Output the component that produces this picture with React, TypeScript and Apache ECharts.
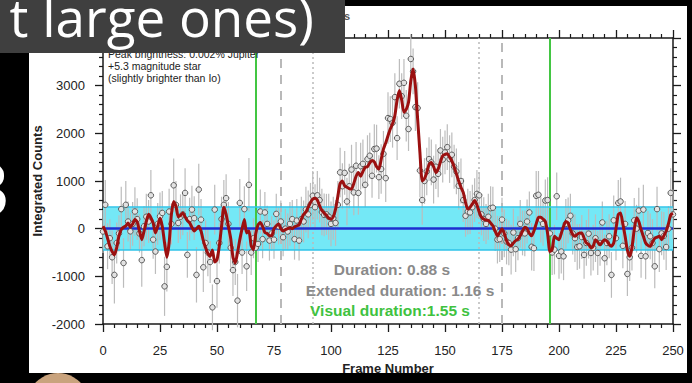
import React, { useEffect, useRef } from "react";
import * as echarts from "echarts";

// Smoothed light curve (running mean), one value per frame 0..250
const smooth = [
  50, -50, -200, -370, -480, -550, -400, -150, -20, 30,
  60, 120, 30, 100, 190, 140, -50, -230, -50, 150,
  300, 230, 120, -90, 50, 220, 50, -300, -600, -300,
  300, 570, 470, 250, 280, 330, 250, 170, 120, 30,
  -50, 0, 50, -50, -250, -400, -520, -580, -450, -700,
  -650, -370, 50, 450, 300, 50, -200, -600, -720, -500,
  -230, 0, 190, -90, -50, -360, -440, -100, 80, 130,
  50, -80, -100, -150, -150, 0, 60, 100, 0, -50,
  -20, 0, 20, 0, 40, 60, 80, 200, 300, 350,
  450, 550, 620, 640, 600, 480, 380, 330, 280, 220,
  200, 250, 410, 680, 950, 1000, 900, 870, 840, 830,
  950, 1100, 1180, 1100, 1200, 1290, 1300, 1380, 1430, 1400,
  1300, 1250, 1450, 1670, 1800, 1950, 2090, 2200, 2370, 2700,
  2900, 2700, 2440, 2500, 2650, 3100, 3350, 3000, 2300, 1600,
  1000, 1050, 1180, 1350, 1390, 1300, 1180, 1250, 1400, 1530,
  1560, 1570, 1500, 1420, 1300, 1150, 1000, 870, 760, 550,
  410, 450, 520, 590, 500, 350, 240, 200, 180, 170,
  120, 60, -50, -150, -80, 0, -100, -250, -330, -360,
  -300, -250, -220, -150, -50, 30, 0, -100, -150, -50,
  100, 240, 240, 200, 150, -100, -480, -440, -160, -200,
  -230, -100, 50, 150, 120, -20, -120, -160, -120, -90,
  -90, -200, -300, -330, -400, -370, -230, -280, -340, -280,
  -230, -260, -330, -370, -300, 0, 300, 330, 100, -160,
  -450, -580, -400, -20, 230, 150, -20, -160, -300, -350,
  -370, -280, -200, -180, -160, -230, -150, -56, 100, 290, 320,
];

// Integrated counts per frame 0..250
const counts = [
  -60, 500, -370, -200, -600, -970, -300, -100, 410, -720,
  500, 150, -56, 100, 360, 200, -100, -660, 50, 250,
  150, 700, -230, -480, 100, 260, 330, -1210, -800, 360,
  100, 910, 500, 120, 250, 300, 750, -550, 200, 400,
  220, -970, 820, 190, -810, -300, -500, -700, -1650, 400,
  -1100, -300, 200, 500, 640, 100, -400, -870, -700, -1510,
  540, -500, 410, -790, 920, -500, -200, -400, -320, 360,
  -220, 340, 100, -250, -100, -230, 310, 50, 150, -180,
  0, -60, 100, 200, -220, 170, -250, 200, 150, 400,
  300, 500, 690, 450, 700, 600, 350, 290, 300, 250,
  100, 220, 120, 500, 1180, 890, 1170, 570, 890, 1240,
  760, 1320, 750, 1310, 1360, 920, 1460, 1530, 1110, 1670,
  1680, 1080, 1250, 1570, 1060, 2320, 2300, 2220, 2760, 1900,
  3040, 2780, 3060, 2370, 2090, 3560, 3300, 2550, 2530, 1220,
  600, 1000, 1200, 1460, 1390, 1030, 1300, 1150, 1640, 1450,
  1600, 1710, 1460, 1550, 1300, 1200, 900, 1000, 600, 270,
  360, 340, 450, 600, 730, 700, 300, 200, 100, 250,
  430, 440, 0, -230, -220, 190, -100, -270, -300, -440,
  -80, -430, -200, 100, -90, -100, 150, 340, -380, -410,
  690, 710, 190, 100, 590, 600, -100, -500, -440, 680,
  -570, -480, -580, 100, 175, 270, -100, -200, -385, -370,
  -175, -550, -300, -105, -510, -400, -200, -510, -300, 130,
  -620, -300, -160, -970, 175, -200, 540, 570, -360, 100,
  -950, -600, -400, 175, 0, 380, -570, 400, -580, -90,
  -160, -300, -790, 410, -430, -100, -150, -385, 0, 750, 300,
];

// Half-length of each error bar
const errors = [
  450, 520, 480, 400, 560, 600, 430, 380, 470, 520,
  500, 420, 390, 460, 510, 440, 400, 560, 420, 480,
  450, 530, 400, 470, 440, 500, 460, 620, 520, 480,
  430, 560, 500, 420, 470, 440, 520, 480, 450, 500,
  460, 580, 540, 430, 520, 470, 500, 440, 480, 520,
  560, 430, 470, 520, 500, 460, 420, 540, 480, 560,
  500, 450, 480, 520, 560, 470, 420, 440, 380, 460,
  400, 430, 380, 420, 360, 400, 420, 380, 440, 400,
  420, 380, 460, 400, 430, 450, 420, 470, 440, 480,
  500, 460, 520, 480, 510, 470, 490, 450, 430, 480,
  470, 450, 480, 500, 520, 480, 460, 500, 470, 520,
  480, 500, 460, 490, 510, 470, 500, 480, 460, 520,
  500, 460, 520, 480, 500, 540, 480, 520, 500, 460,
  520, 480, 500, 540, 460, 520, 480, 500, 540, 560,
  520, 480, 500, 460, 480, 500, 470, 490, 450, 480,
  460, 480, 500, 470, 460, 480, 500, 470, 460, 440,
  480, 450, 470, 460, 500, 480, 440, 460, 420, 480,
  460, 440, 470, 500, 480, 460, 500, 480, 470, 520,
  500, 480, 460, 500, 470, 480, 460, 440, 500, 480,
  520, 500, 480, 460, 440, 480, 500, 470, 520, 500,
  480, 460, 500, 520, 480, 460, 440, 500, 480, 470,
  460, 500, 480, 520, 470, 480, 500, 460, 480, 440,
  500, 470, 460, 480, 520, 460, 480, 500, 470, 480,
  460, 500, 480, 470, 500, 480, 460, 520, 480, 460,
  480, 500, 460, 470, 480, 460, 500, 480, 470, 520, 520,
];

const bandLimit = 450;
const visualFrames = [67, 196];
const extendedFrames = [78, 175];
const durationFrames = [92, 165];
const xTicks = { min: 0, max: 250, interval: 25 };
const yTicks = { min: -2000, max: 4000, interval: 1000 };

const FONT = '"Liberation Sans", Arial, sans-serif';
const AX = "#1a1a1a";

export default function App() {
  const ref = useRef<HTMLDivElement>(null);
  useEffect(() => {
    document.body.style.margin = "0";
    const chart = echarts.init(ref.current!, null, { renderer: "svg" });
    const axisCommon = {
      type: "value" as const,
      axisLine: { show: true, onZero: false, lineStyle: { color: AX, width: 1.5 } },
      axisTick: { show: true, inside: false, length: 8, lineStyle: { color: AX, width: 1.3 } },
      minorTick: { show: true, splitNumber: 5, length: 4, lineStyle: { color: AX, width: 1.2 } },
      splitLine: { show: false },
      minorSplitLine: { show: false },
    };
    const option: any = {
      animation: false,
      grid: { left: 103, right: 19, top: 38, bottom: 59, containLabel: false },
      xAxis: [
        {
          ...axisCommon,
          position: "bottom",
          ...xTicks,
          axisLabel: { fontSize: 13, color: "#222", margin: 20, fontFamily: FONT },
          name: "Frame Number",
          nameLocation: "middle",
          nameGap: 35,
          nameTextStyle: { fontSize: 13, fontWeight: "bold", color: "#222", fontFamily: FONT },
        },
        { ...axisCommon, position: "top", ...xTicks, axisLabel: { show: false } },
      ],
      yAxis: [
        {
          ...axisCommon,
          position: "left",
          ...yTicks,
          axisLabel: {
            fontSize: 13,
            color: "#222",
            margin: 18,
            fontFamily: FONT,
            formatter: (v: number) => (v === 4000 ? "" : String(v)),
          },
        },
        { ...axisCommon, position: "right", ...yTicks, axisLabel: { show: false } },
      ],
      series: [
        {
          type: "line",
          z: 1,
          data: [[0, 0]],
          symbol: "none",
          lineStyle: { opacity: 0 },
          silent: true,
          markArea: {
            silent: true,
            itemStyle: { color: "#74e8f6" },
            data: [[{ yAxis: -bandLimit }, { yAxis: bandLimit }]],
          },
        },
        {
          type: "line",
          z: 2,
          data: [[0, 0]],
          symbol: "none",
          lineStyle: { opacity: 0 },
          silent: true,
          markLine: {
            silent: true,
            symbol: "none",
            label: { show: false },
            data: [
              ...visualFrames.map((f) => ({ xAxis: f, lineStyle: { color: "#43c643", width: 2, type: "solid" } })),
              ...extendedFrames.map((f) => ({ xAxis: f, lineStyle: { color: "#b9b9b9", width: 2, type: [9, 7] } })),
              ...durationFrames.map((f) => ({ xAxis: f, lineStyle: { color: "#b9b9b9", width: 1.5, type: [2, 3] } })),
            ],
          },
        },
        {
          type: "custom",
          z: 3,
          silent: true,
          data: counts.map((v, i) => [i, v - errors[i], v + errors[i]]),
          encode: { x: 0, y: [1, 2] },
          renderItem: (params: any, api: any) => {
            const x = api.value(0);
            const p1 = api.coord([x, api.value(1)]);
            const p2 = api.coord([x, api.value(2)]);
            return {
              type: "line",
              shape: { x1: p1[0], y1: p1[1], x2: p2[0], y2: p2[1] },
              style: { stroke: "#bcbcbc", lineWidth: 1.2 },
            };
          },
        },
        {
          type: "line",
          z: 4,
          data: [[0, 0]],
          symbol: "none",
          lineStyle: { opacity: 0 },
          silent: true,
          markLine: {
            silent: true,
            symbol: "none",
            label: { show: false },
            data: [
              { yAxis: bandLimit, lineStyle: { color: "#2fc3e8", width: 1.5, type: "solid" } },
              { yAxis: -bandLimit, lineStyle: { color: "#2fc3e8", width: 1.5, type: "solid" } },
              { yAxis: 0, lineStyle: { color: "#1f2ed0", width: 2.5, type: "solid" } },
            ],
          },
        },
        {
          type: "scatter",
          z: 5,
          silent: true,
          data: counts.map((v, i) => [i, v]),
          symbol: "circle",
          symbolSize: 5.5,
          itemStyle: { color: "#e2e2e2", borderColor: "#5a5a5a", borderWidth: 1, opacity: 1 },
        },
        {
          type: "line",
          z: 6,
          silent: true,
          data: smooth.map((v, i) => [i, v]),
          showSymbol: false,
          symbol: "none",
          smooth: 0.2,
          lineStyle: { color: "#9b1010", width: 3 },
        },
      ],
      graphic: [
        // slide background outside the chart picture
        { type: "rect", z: 90, shape: { x: 0, y: 0, width: 29, height: 383 }, style: { fill: "#000" } },
        { type: "rect", z: 90, shape: { x: 0, y: 0, width: 692, height: 6 }, style: { fill: "#000" } },
        { type: "rect", z: 90, shape: { x: 687, y: 0, width: 5, height: 383 }, style: { fill: "#000" } },
        { type: "rect", z: 90, shape: { x: 0, y: 373, width: 692, height: 10 }, style: { fill: "#000" } },
        { type: "circle", z: 91, shape: { cx: 58, cy: 404, r: 31 }, style: { fill: "#c9a37d" } },
        {
          type: "text", z: 91, x: 10, y: 187,
          style: { text: "3", fill: "#fff", font: '74px "Open Sans"', align: "right", verticalAlign: "middle" },
        },
        // annotations inside the plot
        {
          type: "text", z: 50, x: 344, y: 16,
          style: { text: "s", fill: "#555", font: `bold 11px ${FONT}`, align: "left", verticalAlign: "middle" },
        },
        {
          type: "text", z: 50, x: 108, y: 54,
          style: { text: "Peak brightness: 0.002% Jupiter", fill: "#222", font: `10.5px ${FONT}`, align: "left", verticalAlign: "middle" },
        },
        {
          type: "text", z: 50, x: 108, y: 66,
          style: { text: "+5.3 magnitude star", fill: "#222", font: `10.5px ${FONT}`, align: "left", verticalAlign: "middle" },
        },
        {
          type: "text", z: 50, x: 108, y: 78,
          style: { text: "(slightly brighter than Io)", fill: "#222", font: `10.5px ${FONT}`, align: "left", verticalAlign: "middle" },
        },
        {
          type: "text", z: 50, x: 37, y: 181, rotation: Math.PI / 2,
          style: { text: "Integrated Counts", fill: "#222", font: `bold 13px ${FONT}`, align: "center", verticalAlign: "middle" },
        },
        {
          type: "text", z: 50, x: 392, y: 269,
          style: { text: "Duration: 0.88 s", fill: "#8a8a8a", font: `bold 15.5px ${FONT}`, align: "center", verticalAlign: "middle" },
        },
        {
          type: "text", z: 50, x: 400, y: 290,
          style: { text: "Extended duration: 1.16 s", fill: "#8a8a8a", font: `bold 15.5px ${FONT}`, align: "center", verticalAlign: "middle" },
        },
        {
          type: "text", z: 50, x: 390, y: 310,
          style: { text: "Visual duration:1.55 s", fill: "#3fc23f", font: `bold 15.5px ${FONT}`, align: "center", verticalAlign: "middle" },
        },
        // overlaid slide title box
        { type: "rect", z: 100, shape: { x: 0, y: 0, width: 345, height: 53 }, style: { fill: "#3f3f3f" } },
        {
          type: "text", z: 101, x: 314, y: 16,
          style: { text: "t large ones)", fill: "#fff", font: '53px "Open Sans"', align: "right", verticalAlign: "middle" },
        },
      ],
    };
    chart.setOption(option);
    return () => chart.dispose();
  }, []);
  return (
    <div style={{ position: "fixed", left: 0, top: 0, width: 692, height: 383, background: "#000" }}>
      <div style={{ position: "absolute", left: 29, top: 6, width: 658, height: 367, background: "#fff" }} />
      <div ref={ref} style={{ position: "absolute", left: 0, top: 0, width: 692, height: 383 }} />
    </div>
  );
}
